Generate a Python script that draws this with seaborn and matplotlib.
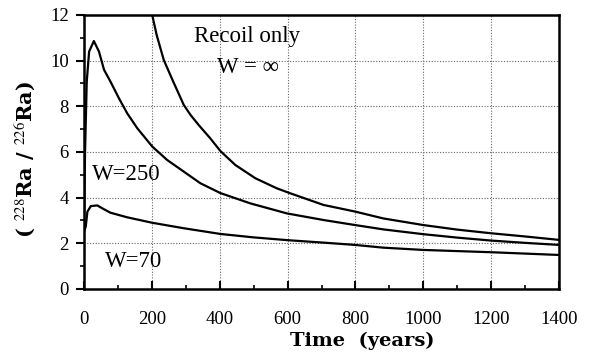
import matplotlib
matplotlib.use("Agg")
import matplotlib.pyplot as plt
import seaborn as sns
import pandas as pd
from matplotlib.ticker import MultipleLocator

# values
t_recoil = [201, 214, 235, 263, 294, 314, 338, 372, 402, 446, 505, 568, 608, 706, 799, 882, 1000, 1100, 1200, 1300, 1400]
r_recoil = [12.0, 11.13, 10.03, 9.08, 8.06, 7.62, 7.18, 6.60, 6.04, 5.43, 4.85, 4.41, 4.19, 3.68, 3.39, 3.09, 2.8, 2.6, 2.44, 2.3, 2.15]

t_w250 = [0, 3, 8, 15, 29, 44, 59, 78, 103, 127, 157, 201, 245, 294, 343, 402, 490, 598, 706, 799, 882, 1000, 1100, 1200, 1300, 1400]
r_w250 = [2.6, 6.0, 9.08, 10.4, 10.86, 10.4, 9.6, 9.08, 8.35, 7.7, 7.04, 6.24, 5.65, 5.14, 4.63, 4.2, 3.75, 3.31, 3.02, 2.8, 2.61, 2.4, 2.25, 2.12, 2.02, 1.93]

t_w70 = [0, 5, 10, 20, 39, 59, 78, 127, 201, 294, 402, 500, 598, 706, 799, 882, 1000, 1200, 1400]
r_w70 = [2.5, 2.73, 3.39, 3.63, 3.66, 3.49, 3.34, 3.14, 2.90, 2.66, 2.41, 2.26, 2.14, 2.03, 1.93, 1.81, 1.71, 1.61, 1.49]

sns.set_style("white")
plt.rcParams['font.family'] = ['Liberation Serif', 'DejaVu Serif']
plt.rcParams['mathtext.fontset'] = 'stix'
plt.rcParams['text.color'] = 'black'
plt.rcParams['axes.labelcolor'] = 'black'
plt.rcParams['xtick.color'] = 'black'
plt.rcParams['ytick.color'] = 'black'

fig = plt.figure(figsize=(5.93, 3.63), dpi=100)
ax = fig.add_axes([0.1417, 0.2039, 0.801, 0.7548])

for t, r in [(t_recoil, r_recoil), (t_w250, r_w250), (t_w70, r_w70)]:
    df = pd.DataFrame({'t': t, 'r': r})
    sns.lineplot(data=df, x='t', y='r', color='black', lw=1.6, ax=ax, sort=False)

ax.set_xlim(0, 1400)
ax.set_ylim(0, 12)
ax.xaxis.set_major_locator(MultipleLocator(200))
ax.xaxis.set_minor_locator(MultipleLocator(100))
ax.yaxis.set_major_locator(MultipleLocator(2))
ax.yaxis.set_minor_locator(MultipleLocator(1))
ax.grid(True, which='major', color='0.4', linestyle=(0, (1, 1.5)), lw=0.8)

for s in ax.spines.values():
    s.set_color('black')
    s.set_linewidth(1.8)

ax.tick_params(axis='x', which='major', direction='in', length=6, width=1.5, pad=15.5, labelsize=13.5)
ax.tick_params(axis='x', which='minor', direction='in', length=3, width=1.2)
ax.tick_params(axis='y', which='major', direction='out', length=6, width=1.5, pad=5, labelsize=13.5)
ax.tick_params(axis='y', which='minor', direction='out', length=3, width=1.2)
ax.tick_params(left=True, bottom=True, which='both')

ax.set_xlabel('Time  (years)', fontsize=14, fontweight='bold', family='DejaVu Serif')
ax.xaxis.set_label_coords(0.585, -0.155)
ax.set_ylabel(r'( $^{228}$Ra / $^{226}$Ra)', fontsize=15, fontweight='bold', family='DejaVu Serif')
ax.yaxis.set_label_coords(-0.10, 0.474)

ax.text(482, 10.82, 'Recoil only', fontsize=16.5, ha='center', va='baseline')
ax.text(482, 9.46, 'W = \u221e', fontsize=16.5, ha='center', va='baseline')
ax.text(23, 4.77, 'W=250', fontsize=16.5, ha='left', va='baseline')
ax.text(62, 0.96, 'W=70', fontsize=16.5, ha='left', va='baseline')

fig.savefig('out.png', dpi=100)
